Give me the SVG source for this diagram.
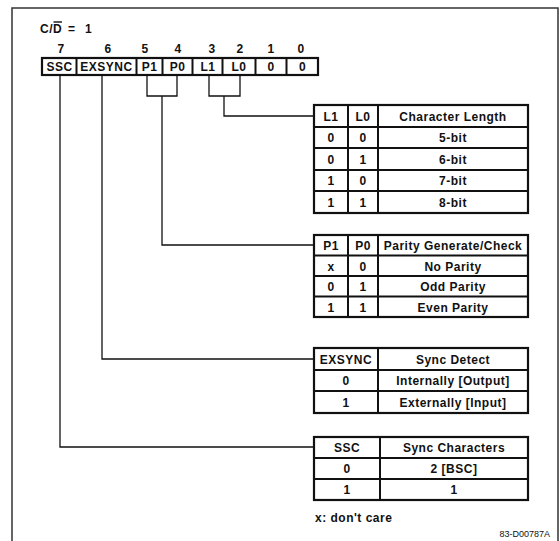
<svg xmlns="http://www.w3.org/2000/svg" width="560" height="541" viewBox="0 0 560 541">
<style>
text{font-family:"Liberation Sans",Arial,sans-serif;font-weight:bold;font-size:12px;fill:#111;text-anchor:middle;letter-spacing:0.5px}
.frame{fill:none;stroke:#333;stroke-width:1.5}
.box{fill:#fff;stroke:#111;stroke-width:2.2}
.div{stroke:#111;stroke-width:2}
.conn{fill:none;stroke:#111;stroke-width:1.3}
.sm{font-size:9px;font-weight:normal;text-anchor:end;letter-spacing:0}
.lt{text-anchor:start}
</style>
<rect width="560" height="541" fill="#fff"/>
<path class="frame" d="M12,541 V8 H558 V541"/>
<g id="title">
<text class="lt" x="40" y="33" font-size="12.5">C/D</text>
<text class="lt" x="68" y="33" font-size="12.5">=</text>
<text class="lt" x="85" y="33" font-size="12.5">1</text>
<line x1="53.5" y1="22" x2="62" y2="22" stroke="#111" stroke-width="1.4"/>
</g>
<g id="register">
<text x="61" y="53">7</text><text x="108" y="53">6</text><text x="145" y="53">5</text><text x="178" y="53">4</text>
<text x="212" y="53">3</text><text x="240" y="53">2</text><text x="271" y="53">1</text><text x="301" y="53">0</text>
<rect class="box" x="42" y="58" width="276" height="17"/>
<path class="div" d="M76.5,58V75M136.5,58V75M162.5,58V75M192.5,58V75M222.5,58V75M255.5,58V75M286.5,58V75"/>
<text x="59.5" y="70.5">SSC</text><text x="106.5" y="70.5">EXSYNC</text><text x="149.5" y="70.5">P1</text><text x="177.5" y="70.5">P0</text>
<text x="208" y="70.5">L1</text><text x="239" y="70.5">L0</text><text x="271" y="70.5">0</text><text x="302.5" y="70.5">0</text>
</g>
<g id="connectors">
<path class="conn" d="M209,75V96H240V75M224,96V116H314"/>
<path class="conn" d="M147,75V96H177V75M162,96V245H314"/>
<path class="conn" d="M102,75V359H314"/>
<path class="conn" d="M60,75V447H314"/>
</g>
<g id="char-length">
<rect class="box" x="314" y="105" width="214" height="108"/>
<path class="div" d="M314,127H528M314,148H528M314,170H528M314,191H528M348,105V213M378,105V213"/>
<text x="331" y="120.5">L1</text><text x="363" y="120.5">L0</text><text x="453" y="120.5">Character Length</text>
<text x="331" y="142">0</text><text x="363" y="142">0</text><text x="453" y="142">5-bit</text>
<text x="331" y="163.5">0</text><text x="363" y="163.5">1</text><text x="453" y="163.5">6-bit</text>
<text x="331" y="185">1</text><text x="363" y="185">0</text><text x="453" y="185">7-bit</text>
<text x="331" y="206.5">1</text><text x="363" y="206.5">1</text><text x="453" y="206.5">8-bit</text>
</g>
<g id="parity">
<rect class="box" x="314" y="235" width="214" height="82"/>
<path class="div" d="M314,255.5H528M314,276H528M314,296.5H528M348,235V317M378,235V317"/>
<text x="331" y="249.5">P1</text><text x="363" y="249.5">P0</text><text x="453" y="249.5">Parity Generate/Check</text>
<text x="331" y="270.5">x</text><text x="363" y="270.5">0</text><text x="453" y="270.5">No Parity</text>
<text x="331" y="290.5">0</text><text x="363" y="290.5">1</text><text x="453" y="290.5">Odd Parity</text>
<text x="331" y="311.5">1</text><text x="363" y="311.5">1</text><text x="453" y="311.5">Even Parity</text>
</g>
<g id="sync-detect">
<rect class="box" x="314" y="348" width="214" height="65"/>
<path class="div" d="M314,370H528M314,391H528M378,348V413"/>
<text x="346" y="363.5">EXSYNC</text><text x="453" y="363.5">Sync Detect</text>
<text x="346" y="385">0</text><text x="453" y="385">Internally [Output]</text>
<text x="346" y="406.5">1</text><text x="453" y="406.5">Externally [Input]</text>
</g>
<g id="sync-chars">
<rect class="box" x="314" y="437" width="214" height="63"/>
<path class="div" d="M314,458H528M314,479H528M380,437V500"/>
<text x="347" y="452">SSC</text><text x="454" y="452">Sync Characters</text>
<text x="347" y="473">0</text><text x="454" y="473">2 [BSC]</text>
<text x="347" y="494">1</text><text x="454" y="494">1</text>
</g>
<g id="notes">
<text class="lt" x="315" y="522">x: don't care</text>
<text class="sm" x="550" y="537">83-D00787A</text>
</g>
</svg>
